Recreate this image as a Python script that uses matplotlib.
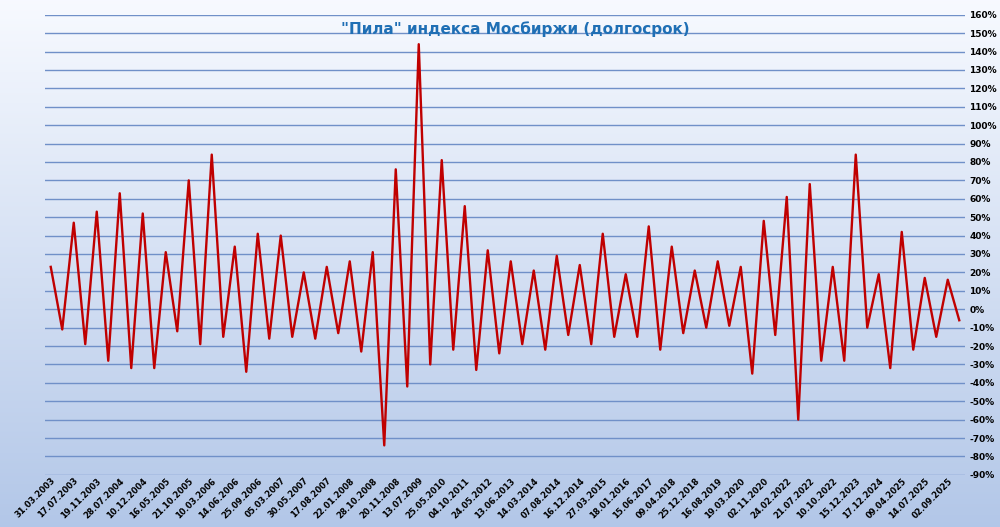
import matplotlib
matplotlib.use("Agg")
import matplotlib.pyplot as plt
import numpy as np
from matplotlib.ticker import FuncFormatter, MultipleLocator

DATE_LABELS = ["31.03.2003", "17.07.2003", "19.11.2003", "28.07.2004", "10.12.2004",
               "16.05.2005", "21.10.2005", "10.03.2006", "14.06.2006", "25.09.2006",
               "05.03.2007", "30.05.2007", "17.08.2007", "22.01.2008", "28.10.2008",
               "20.11.2008", "13.07.2009", "25.05.2010", "04.10.2011", "24.05.2012",
               "13.06.2013", "14.03.2014", "07.08.2014", "16.12.2014", "27.03.2015",
               "18.01.2016", "15.06.2017", "09.04.2018", "25.12.2018", "16.08.2019",
               "19.03.2020", "02.11.2020", "24.02.2022", "21.07.2022", "10.10.2022",
               "15.12.2023", "17.12.2024", "09.04.2025", "14.07.2025", "02.09.2025"]

SWINGS = [23, -11, 47, -19, 53, -28, 63, -32, 52, -32,
          31, -12, 70, -19, 84, -15, 34, -34, 41, -16,
          40, -15, 20, -16, 23, -13, 26, -23, 31, -74,
          76, -42, 144, -30, 81, -22, 56, -33, 32, -24,
          26, -19, 21, -22, 29, -14, 24, -19, 41, -15,
          19, -15, 45, -22, 34, -13, 21, -10, 26, -9,
          23, -35, 48, -14, 61, -60, 68, -28, 23, -28,
          84, -10, 19, -32, 42, -22, 17, -15, 16, -6]

fig = plt.figure(figsize=(10, 5.27), dpi=100)

# background gradient, white at top to light blue at bottom
bg = fig.add_axes([0, 0, 1, 1], zorder=0)
grad = np.linspace(0, 1, 256).reshape(-1, 1)
top = np.array([0.97, 0.98, 1.0])
bot = np.array([0.70, 0.78, 0.91])
img = top + (bot - top) * grad[..., None]
bg.imshow(img, aspect="auto", extent=[0, 1, 0, 1])
bg.axis("off")

ax = fig.add_axes([0.045, 0.099, 0.92, 0.873], zorder=1)
ax.patch.set_alpha(0)
x = np.arange(len(SWINGS))
ax.plot(x, SWINGS, color="#C00000", lw=1.7)

ax.set_ylim(-90, 160)
ax.set_xlim(-0.5, len(SWINGS) - 0.5)
ax.yaxis.set_major_locator(MultipleLocator(10))
ax.yaxis.set_major_formatter(FuncFormatter(lambda v, p: f"{v:.0f}%"))
ax.yaxis.tick_right()
ax.grid(axis="y", color="#7090C8", lw=1)
ax.tick_params(axis="y", length=0, labelsize=6.5, pad=3)
ax.tick_params(axis="x", length=0, labelsize=6, pad=1)
for lbl in ax.get_yticklabels():
    lbl.set_fontweight("bold")

ax.set_xticks(x[::2])
ax.set_xticklabels(DATE_LABELS, rotation=45, ha="right", rotation_mode="anchor",
                   fontweight="bold")
for s in ax.spines.values():
    s.set_visible(False)

fig.text(0.515, 0.945, '"Пила" индекса Мосбиржи (долгосрок)', ha="center",
         va="center", color="#1F6FB5", fontsize=11, fontweight="bold")

fig.savefig("out.png", dpi=100)
